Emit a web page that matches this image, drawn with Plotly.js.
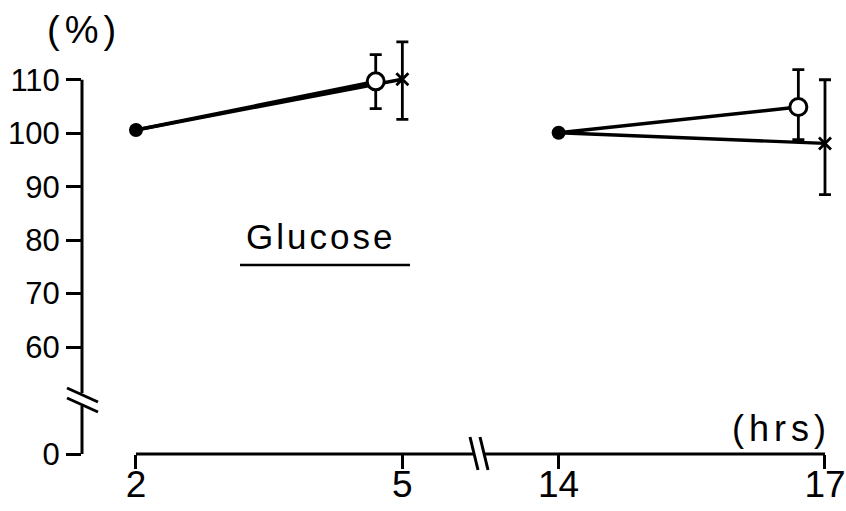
<!DOCTYPE html>
<html>
<head>
<meta charset="utf-8">
<script src="https://cdn.plot.ly/plotly-3.0.1.min.js"></script>
<style>
html,body{margin:0;padding:0;background:#fff;}
#chart{width:846px;height:511px;}
</style>
</head>
<body>
<div id="chart"></div>
<script>
// ---- data (hours, % of initial) ----
const startHours = [2, 14];
const startVals = [100.6, 100.1];

const openHours = [4.7, 16.7];
const openVals = [109.7, 104.9];
const openErrUp = [5.0, 7.0];
const openErrDown = [5.1, 6.1];

const crossHours = [5, 17];
const crossVals = [110.1, 98.1];
const crossErrUp = [7.0, 11.9];
const crossErrDown = [7.5, 9.6];

const xTickHours = [2, 5, 14, 17];
const xTickLabels = ['2', '5', '14', '17'];
const yTickVals = [0, 60, 70, 80, 90, 100, 110];
const yTickLabels = ['0', '60', '70', '80', '90', '100', '110'];

// ---- broken-axis scale helpers ----
const X_SHIFT = 14 - 6.76;           // 14 h drawn right after the break
const bx = h => (h <= 5 ? h : h - X_SHIFT);
const by = v => (v === 0 ? 40 : v);  // 0 drawn just below the y break

const traces = [];
// connecting lines
for (let i = 0; i < startHours.length; i++) {
  traces.push({
    x: [bx(startHours[i]), bx(openHours[i])],
    y: [by(startVals[i]), by(openVals[i])],
    mode: 'lines', line: {color: '#000', width: 3.4}, hoverinfo: 'skip', cliponaxis: false
  });
  traces.push({
    x: [bx(startHours[i]), bx(crossHours[i])],
    y: [by(startVals[i]), by(crossVals[i])],
    mode: 'lines', line: {color: '#000', width: 3.4}, hoverinfo: 'skip', cliponaxis: false
  });
}
// cross markers
traces.push({
  x: crossHours.map(bx), y: crossVals.map(by), mode: 'markers', cliponaxis: false,
  marker: {symbol: 'x-thin-open', size: 12, color: '#000', line: {color: '#000', width: 2.8}},
  error_y: {type: 'data', symmetric: false, array: crossErrUp, arrayminus: crossErrDown,
            color: '#000', thickness: 2.8, width: 6}
});
// open circles
traces.push({
  x: openHours.map(bx), y: openVals.map(by), mode: 'markers', cliponaxis: false,
  marker: {symbol: 'circle', size: 17, color: '#fff', line: {color: '#000', width: 3}},
  error_y: {type: 'data', symmetric: false, array: openErrUp, arrayminus: openErrDown,
            color: '#000', thickness: 2.8, width: 6}
});
// filled start circles
traces.push({
  x: startHours.map(bx), y: startVals.map(by), mode: 'markers', cliponaxis: false,
  marker: {symbol: 'circle', size: 14, color: '#000'}
});

const L = 82, R = 10, T = 37, B = 57;
const W = 846 - L - R, H = 511 - T - B;
const xr = [1.392, 9.884];
const yr = [40, 118];
const px2x = p => xr[0] + (p - L) / W * (xr[1] - xr[0]);
const py2y = p => yr[0] + (T + H - p) / H * (yr[1] - yr[0]);

const lw = 3;
const shapes = [
  // y axis line (with break)
  {type: 'line', xref: 'paper', yref: 'y', x0: 0, x1: 0, y0: 110, y1: py2y(393), line: {color: '#000', width: lw}},
  {type: 'line', xref: 'paper', yref: 'y', x0: 0, x1: 0, y0: py2y(406), y1: 40, line: {color: '#000', width: lw}},
  {type: 'line', xref: 'paper', yref: 'y', xsizemode: 'pixel', ysizemode: 'pixel', xanchor: 0, yanchor: py2y(400),
   x0: -15, x1: 16, y0: 12, y1: -2, line: {color: '#000', width: lw}},
  {type: 'line', xref: 'paper', yref: 'y', xsizemode: 'pixel', ysizemode: 'pixel', xanchor: 0, yanchor: py2y(400),
   x0: -15, x1: 16, y0: 2, y1: -12, line: {color: '#000', width: lw}},
  // x axis line (with break)
  {type: 'line', xref: 'x', yref: 'paper', x0: bx(2), x1: px2x(474), y0: 0, y1: 0, line: {color: '#000', width: lw}},
  {type: 'line', xref: 'x', yref: 'paper', x0: px2x(485), x1: bx(17), y0: 0, y1: 0, line: {color: '#000', width: lw}},
  {type: 'line', xref: 'x', yref: 'paper', xsizemode: 'pixel', ysizemode: 'pixel', xanchor: px2x(479), yanchor: 0,
   x0: -9, x1: -1, y0: 17, y1: -16, line: {color: '#000', width: lw}},
  {type: 'line', xref: 'x', yref: 'paper', xsizemode: 'pixel', ysizemode: 'pixel', xanchor: px2x(479), yanchor: 0,
   x0: 1, x1: 9, y0: 17, y1: -16, line: {color: '#000', width: lw}},
  // underline of label
  {type: 'line', xref: 'x', yref: 'y', x0: px2x(240), x1: px2x(410), y0: py2y(265), y1: py2y(265), line: {color: '#000', width: 2.5}}
];

const txtFont = {family: 'Liberation Sans, Arial, sans-serif', color: '#000'};
const sp = (t, s) => '<span style="letter-spacing:' + s + 'px">' + t + '</span>';
const annotations = [
  {xref: 'paper', yref: 'paper', x: (84 - L) / W, y: (T + H - 30) / H, xanchor: 'center', yanchor: 'middle',
   text: sp('(%)', 5), showarrow: false, font: Object.assign({size: 38}, txtFont)},
  {xref: 'paper', yref: 'paper', x: (781 - L) / W, y: (T + H - 428) / H, xanchor: 'center', yanchor: 'middle',
   text: sp('(hrs)', 5), showarrow: false, font: Object.assign({size: 36}, txtFont)},
  {xref: 'paper', yref: 'paper', x: (320 - L) / W, y: (T + H - 236) / H, xanchor: 'center', yanchor: 'middle',
   text: sp('Glucose', 3), showarrow: false, font: Object.assign({size: 35}, txtFont)}
];

const tickFontFam = 'Liberation Sans, Arial, sans-serif';
const layout = {
  width: 846, height: 511,
  margin: {l: L, r: R, t: T, b: B, pad: 0},
  paper_bgcolor: '#fff', plot_bgcolor: '#fff',
  showlegend: false,
  xaxis: {range: xr, showgrid: false, zeroline: false, showline: false,
          tickmode: 'array', tickvals: xTickHours.map(bx), ticktext: xTickLabels,
          ticks: 'outside', ticklen: 14, tickwidth: lw, tickcolor: '#000',
          ticklabeloverflow: 'allow', ticklabelstandoff: -16,
          tickfont: {family: tickFontFam, size: 37, color: '#000'}, fixedrange: true},
  yaxis: {range: yr, showgrid: false, zeroline: false, showline: false,
          tickmode: 'array', tickvals: yTickVals.map(by), ticktext: yTickLabels,
          ticks: 'outside', ticklen: 15, tickwidth: lw, tickcolor: '#000',
          tickfont: {family: tickFontFam, size: 31, color: '#000'}, fixedrange: true},
  shapes: shapes,
  annotations: annotations
};

Plotly.newPlot('chart', traces, layout, {staticPlot: true, displayModeBar: false});
</script>
</body>
</html>
